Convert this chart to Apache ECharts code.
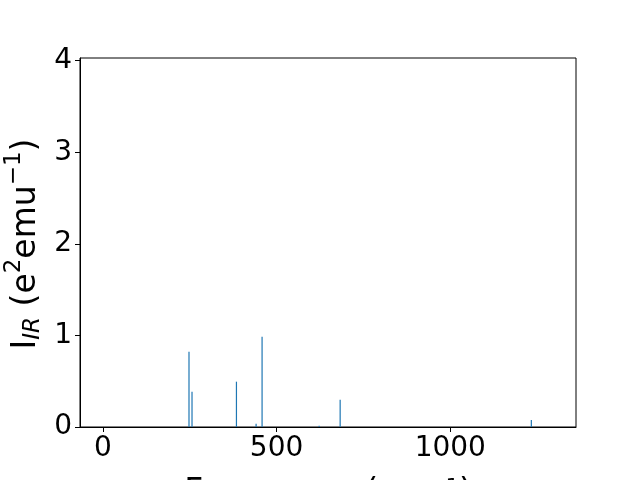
<!DOCTYPE html>
<html>
<head>
<meta charset="utf-8">
<script src="https://cdn.jsdelivr.net/npm/echarts@6/dist/echarts.min.js"></script>
<style>html,body{margin:0;padding:0;background:#fff}#c{width:640px;height:480px}</style>
</head>
<body>
<div id="c"></div>
<script>
const frequencies = [247.8, 256.5, 384.4, 441, 458.2, 622.5, 683, 1233.4];
const intensities = [0.822, 0.385, 0.495, 0.036, 0.986, 0.014, 0.298, 0.076];
const xTicks = [0, 500, 1000];
const yTicks = [0, 1, 2, 3, 4];
const yLabelText = '{m|I}{s|IR}{m| (e}{p|2}{m|emu}{p|−1}{m|)}';

const chart = echarts.init(document.getElementById('c'), null, {renderer: 'canvas'});
const font = 'DejaVu Sans';
chart.setOption({
  animation: false,
  backgroundColor: '#fff',
  grid: {left: 80, right: 64, top: 58, bottom: 53, containLabel: false, outerBoundsMode: 'none',
         show: true, borderColor: '#000', borderWidth: 1, backgroundColor: 'transparent'},
  graphic: [{
    type: 'text', x: 26, y: 244, rotation: Math.PI / 2,
    style: {
      text: yLabelText, align: 'center', verticalAlign: 'middle',
      fontFamily: font, fontSize: 33, fill: '#000',
      rich: {
        m: {fontFamily: font, fontSize: 33, fill: '#000', lineHeight: 50, verticalAlign: 'middle'},
        s: {fontFamily: font, fontSize: 23, fontStyle: 'italic', fill: '#000', lineHeight: 23, verticalAlign: 'bottom', padding: [0,0,6,0]},
        p: {fontFamily: font, fontSize: 23, fill: '#000', lineHeight: 23, verticalAlign: 'top', padding: [2,0,0,0]}
      }
    }
  }],
  xAxis: {
    type: 'value', min: -66, max: 1362,
    name: 'Frequency (cm⁻¹)', nameLocation: 'middle', nameGap: 50,
    nameTextStyle: {fontFamily: font, fontSize: 33, color: '#000'},
    axisLine: {show: true, onZero: false, lineStyle: {color: '#000', width: 1}},
    axisTick: {show: true, length: 5, lineStyle: {color: '#000'}, customValues: xTicks},
    axisLabel: {fontFamily: font, fontSize: 28, color: '#000', margin: 8, customValues: xTicks, formatter: v => String(v)},
    splitLine: {show: false}
  },
  yAxis: {
    type: 'value', min: 0, max: 4.03,
    axisLine: {show: true, onZero: false, lineStyle: {color: '#000', width: 1}},
    axisTick: {show: true, length: 5, lineStyle: {color: '#000'}, customValues: yTicks},
    axisLabel: {fontFamily: font, fontSize: 28, color: '#000', margin: 8, customValues: yTicks, formatter: v => String(v)},
    splitLine: {show: false}
  },
  series: [{
    type: 'bar',
    data: frequencies.map((f, i) => [f, intensities[i]]),
    barWidth: 1.2,
    itemStyle: {color: '#1f77b4'}
  }]
});
</script>
</body>
</html>
